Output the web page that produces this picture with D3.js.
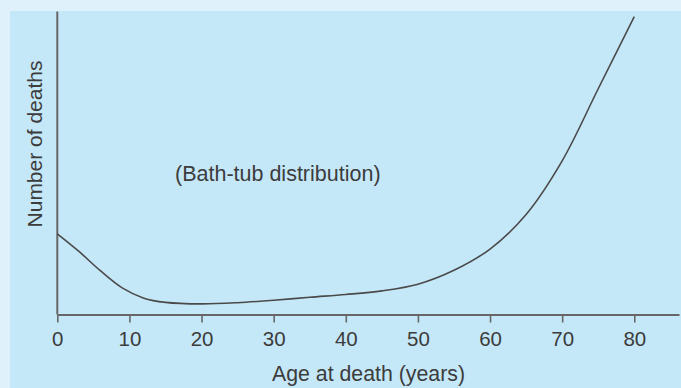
<!DOCTYPE html>
<html><head><meta charset="utf-8">
<script src="https://cdn.jsdelivr.net/npm/d3@7"></script>
<style>html,body{margin:0;padding:0;background:#dff2fb;}svg{display:block;}</style>
</head><body>
<svg id="c" width="681" height="388"></svg>
<script>
const ages   = [0, 3, 6, 9, 12, 15, 20, 25, 30, 35, 40, 45, 50, 55, 60, 65, 70, 75, 80];
const deaths = [26.6, 20.8, 14.4, 8.8, 5.4, 4.0, 3.5, 3.9, 4.7, 5.7, 6.6, 7.8, 10.0, 14.6, 21.6, 33.0, 50.7, 74.5, 98.3];
const xTicks = [0, 10, 20, 30, 40, 50, 60, 70, 80];
const xTitle = "Age at death (years)";
const yTitle = "Number of deaths";
const note = "(Bath-tub distribution)";

const svg = d3.select("#c");
const W = 681, H = 388;
const font = "'Liberation Sans', Arial, sans-serif";
svg.append("rect").attr("x",0).attr("y",0).attr("width",W).attr("height",H).attr("fill","#dff2fb");
svg.append("rect").attr("x",10).attr("y",11).attr("width",W-10).attr("height",H-11).attr("fill","#c5e8f8");

const x = d3.scaleLinear().domain([0, 86.2]).range([57.3, 679]);
const y = d3.scaleLinear().domain([0, 100]).range([314.5, 11.5]);

// axes
const xAxis = d3.axisBottom(x).tickValues(xTicks).tickSizeOuter(0).tickSizeInner(8).tickPadding(8.5).tickFormat(d3.format("d"));
const gx = svg.append("g").attr("transform", `translate(0,${y(0)})`).call(xAxis);
gx.select(".domain").attr("stroke","#666").attr("stroke-width",2);
gx.selectAll(".tick line").attr("stroke","#666").attr("stroke-width",1.6);
gx.selectAll(".tick text").attr("fill","#3c3c3c").attr("font-family",font).attr("font-size",20.5);

svg.append("line").attr("x1",x(0)).attr("x2",x(0)).attr("y1",y(0)).attr("y2",y(100))
  .attr("stroke","#666").attr("stroke-width",2);

// curve
const pts = ages.map((a,i)=>[a, deaths[i]]);
const line = d3.line().x(d=>x(d[0])).y(d=>y(d[1])).curve(d3.curveCatmullRom.alpha(0.5));
svg.append("path").datum(pts).attr("d",line).attr("fill","none")
  .attr("stroke","#4a4a4a").attr("stroke-width",1.6);

// texts
svg.append("text").attr("x", 368.5).attr("y",380.5).attr("text-anchor","middle")
  .attr("font-family",font).attr("font-size",21.3).attr("fill","#3c3c3c").text(xTitle);
svg.append("text").attr("transform","translate(41.5,144) rotate(-90)").attr("text-anchor","middle")
  .attr("font-family",font).attr("font-size",21).attr("fill","#3c3c3c").text(yTitle);
svg.append("text").attr("x",175).attr("y",181).attr("font-family",font).attr("font-size",21.5)
  .attr("fill","#3c3c3c").text(note);
</script>
</body></html>
